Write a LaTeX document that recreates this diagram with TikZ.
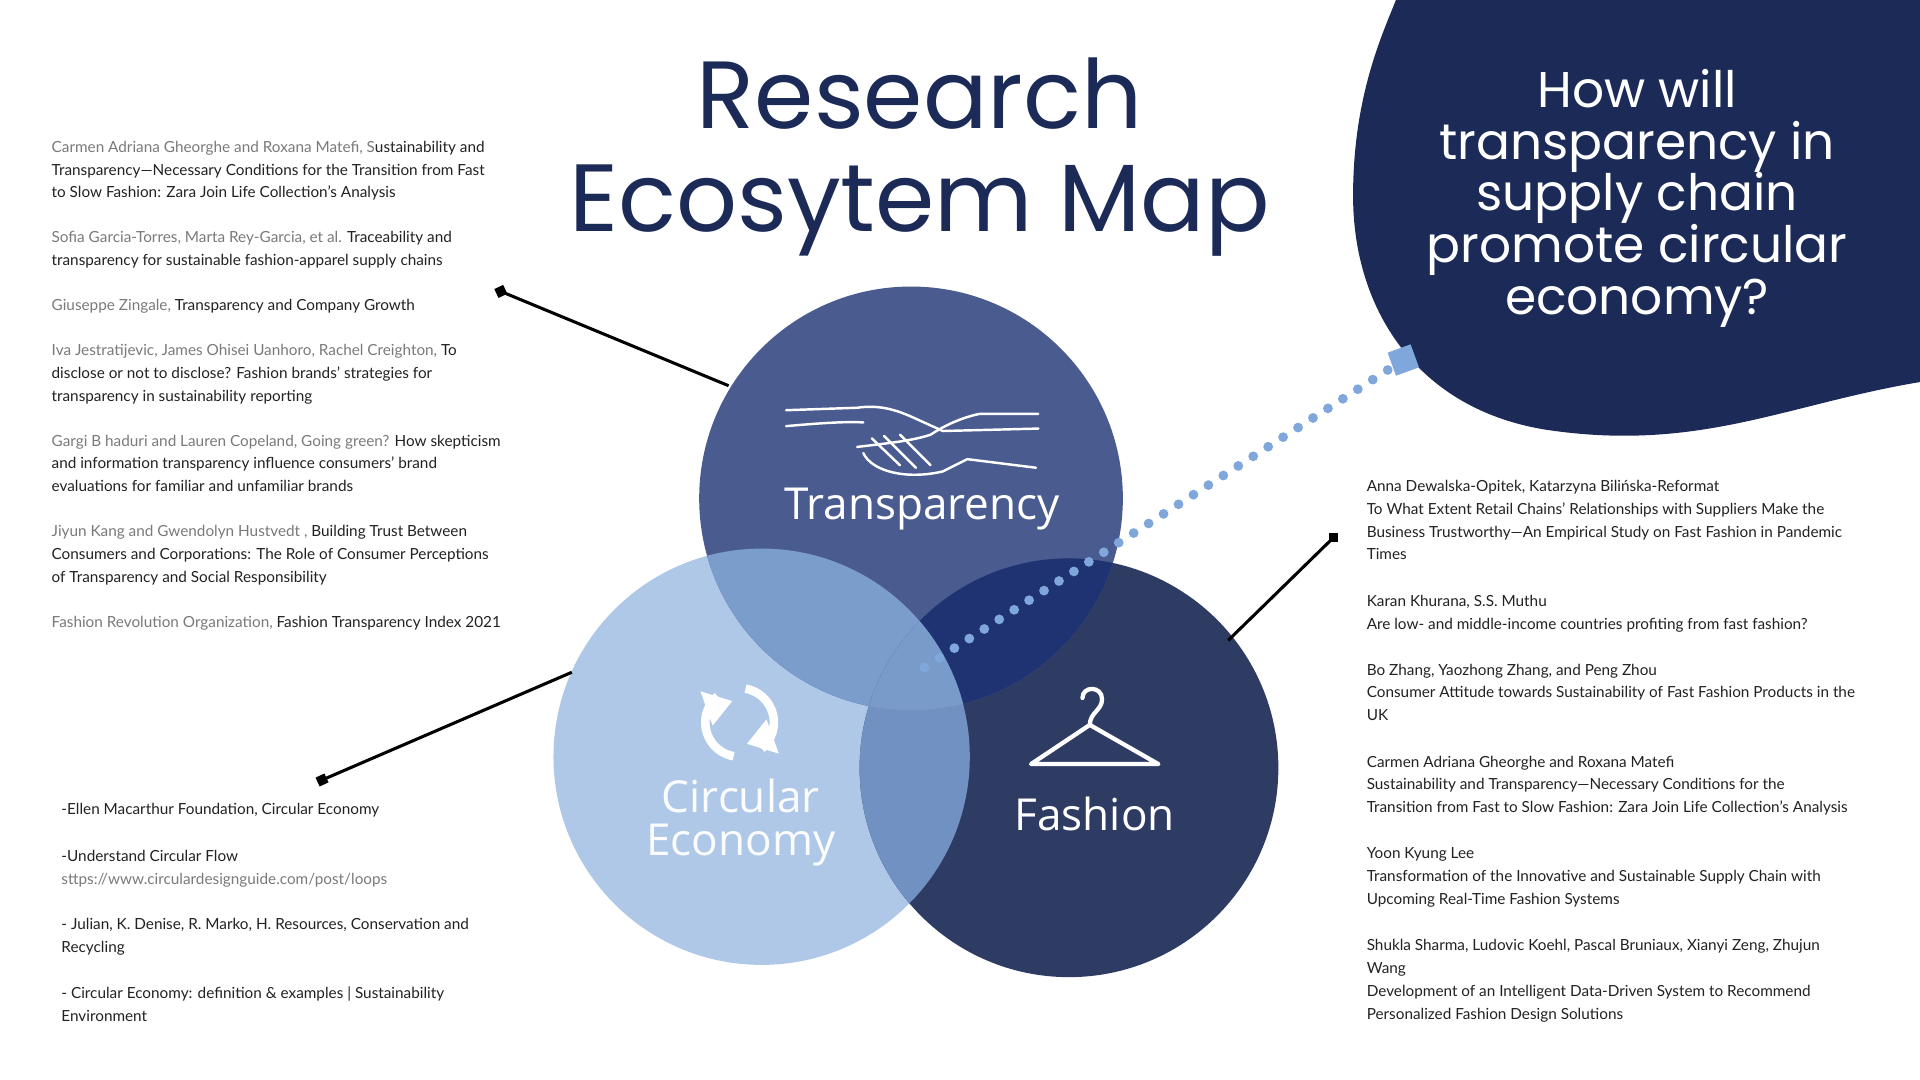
\documentclass[tikz,border=0pt]{standalone}
\usepackage{fontspec}
\setmainfont{Lato}
\newfontfamily\titlef{Poppins}
\newfontfamily\labf{Open Sans}
\usetikzlibrary{arrows.meta}
\definecolor{navy}{HTML}{1B2A57}
\definecolor{ctrans}{HTML}{4A5B8F}
\definecolor{ccirc}{HTML}{AFC8E8}
\definecolor{cfash}{HTML}{2E3C64}
\definecolor{otc}{HTML}{7B9DCB}
\definecolor{ocf}{HTML}{7191C2}
\definecolor{otf}{HTML}{1F3372}
\definecolor{dotc}{HTML}{7FA7DB}
\definecolor{auth}{HTML}{7A7A7A}
\definecolor{ttl}{HTML}{222222}
\newcommand{\au}[1]{{\color{auth}#1}}
\begin{document}
\begin{tikzpicture}[x=1pt,y=-1pt,
  ref/.style={anchor=north west,align=left,inner sep=0pt,font=\fontsize{12.5}{18.6}\selectfont,text=ttl},
  lab/.style={text=white,font=\labf\fontsize{36}{36}\selectfont,inner sep=0pt},
  conn/.style={line width=2.5pt,black},
  sq/.style={fill=black,minimum size=8pt,inner sep=0pt,rotate=25},
  ic/.style={white,line width=3.5pt,line cap=round,line join=round}]
\useasboundingbox (0,0) rectangle (1568,882);
\fill[white] (0,0) rectangle (1568,882);
% blob
\fill[navy] (1140,0) -- (1568,0) -- (1568,312) .. controls (1460,330) and (1390,368) .. (1270,352) .. controls (1160,338) and (1105,255) .. (1105,160) .. controls (1105,80) and (1128,30) .. (1140,0) -- cycle;
\node[text=white,align=center,font=\titlef\fontsize{41}{42.3}\selectfont] (q) at (1337,162) {How will\\transparency in\\supply chain\\promote circular\\economy?};
% title
\node[text=navy,align=center,font=\titlef\fontsize{78}{84}\selectfont] (title) at (751,128) {Research\\Ecosytem Map};
% circles
\coordinate (T) at (744,407); \coordinate (C) at (622,618); \coordinate (F) at (873,627);
\fill[ccirc] (C) circle (170);
\fill[cfash] (F) circle (171);
\fill[ctrans] (T) circle (173);
\begin{scope}\clip (T) circle (173); \fill[otc] (C) circle (170); \fill[otf] (F) circle (171);\end{scope}
\begin{scope}\clip (C) circle (170); \fill[ocf] (F) circle (171);\end{scope}
\begin{scope}\clip (C) circle (170); \clip (F) circle (171); \fill[otc!80!ocf] (T) circle (173);\end{scope}
% dotted line
\node[fill=dotc,minimum size=20pt,inner sep=0pt,rotate=20] (qs) at (1146,294) {};
\coordinate (d0) at (755,545);
\draw[dotc,line width=8pt,line cap=round,dash pattern=on 0pt off 14.5pt] (d0) -- (qs.center);
% icons
\draw[ic,line width=2pt] (642,335) -- (700,333) .. controls (720,330) and (735,336) .. (748,342) -- (770,352) -- (848,350);
\draw[ic,line width=2pt] (642,348) .. controls (665,346) and (690,344) .. (705,345);
\draw[ic,line width=2pt] (700,365) .. controls (725,362) and (745,360) .. (760,355) .. controls (775,345) and (790,340) .. (800,338) -- (848,338);
\draw[ic,line width=2pt] (705,370) .. controls (712,385) and (740,392) .. (770,385) -- (790,375) -- (846,382);
\draw[ic,line width=2pt] (712,358) -- (735,380) (722,356) -- (748,382) (735,355) -- (760,380);
% recycle
\draw[ic,line width=7pt,line cap=butt] (604,590) ++(100:28) arc (100:230:28);
\draw[ic,line width=7pt,line cap=butt] (604,590) ++(280:28) arc (280:410:28);
\fill[white] (604,590) ++(230:28) ++(-14,-4) -- ++(26,8) -- ++(-16,20) -- cycle;
\fill[white] (604,590) ++(50:28) ++(14,4) -- ++(-26,-8) -- ++(16,-20) -- cycle;
% hanger
\draw[ic] (884,570) .. controls (884,560) and (900,560) .. (900,571) .. controls (900,580) and (890,582) .. (890,592) -- (842,624) -- (946,624) -- (890,592);
% labels
\node[lab] (lt) at (753,416) {Transparency};
\node[lab,align=center,font=\labf\fontsize{36}{35}\selectfont,text=white!95!ccirc] (lc) at (605,672) {Circular\\Economy};
\node[lab] (lf) at (894,665) {Fashion};
% connectors
\node[sq] (s1) at (409,238) {}; \coordinate (e1) at (595,315);
\draw[conn] (s1.center) -- (e1);
\node[sq] (s2) at (263,637) {}; \coordinate (e2) at (467,549);
\draw[conn] (s2.center) -- (e2);
\node[sq,rotate=-25] (s3) at (1089,439) {}; \coordinate (e3) at (1003,523);
\draw[conn] (s3.center) -- (e3);
% left refs
\node[ref] (r1) at (42,115) {\au{Carmen Adriana Gheorghe and Roxana Matefi, S}ustainability and\\Transparency---Necessary Conditions for the Transition from Fast\\to Slow Fashion: Zara Join Life Collection’s Analysis};
\node[ref] (r2) at (42,189) {\au{Sofia Garcia-Torres, Marta Rey-Garcia, et al.} Traceability and\\transparency for sustainable fashion-apparel supply chains};
\node[ref] (r3) at (42,244) {\au{Giuseppe Zingale,} Transparency and Company Growth};
\node[ref] (r4) at (42,281) {\au{Iva Jestratijevic, James Ohisei Uanhoro, Rachel Creighton,} To\\disclose or not to disclose? Fashion brands’ strategies for\\transparency in sustainability reporting};
\node[ref] (r5) at (42,355) {\au{Gargi B haduri and Lauren Copeland, Going green?} How skepticism\\and information transparency influence consumers’ brand\\evaluations for familiar and unfamiliar brands};
\node[ref] (r6) at (42,429) {\au{Jiyun Kang and Gwendolyn Hustvedt ,} Building Trust Between\\Consumers and Corporations: The Role of Consumer Perceptions\\of Transparency and Social Responsibility};
\node[ref] (r7) at (42,503) {\au{Fashion Revolution Organization,} Fashion Transparency Index 2021};
% bottom-left refs
\node[ref] (b1) at (50,656) {-Ellen Macarthur Foundation, Circular Economy};
\node[ref] (b2) at (50,694) {-Understand Circular Flow\\\au{sttps://www.circulardesignguide.com/post/loops}};
\node[ref] (b3) at (50,750) {- Julian, K. Denise, R. Marko, H. Resources, Conservation and\\Recycling};
\node[ref] (b4) at (50,806) {- Circular Economy: definition \& examples | Sustainability\\Environment};
% right refs
\node[ref] (g1) at (1116,392) {Anna Dewalska-Opitek, Katarzyna Bilińska-Reformat\\To What Extent Retail Chains’ Relationships with Suppliers Make the\\Business Trustworthy---An Empirical Study on Fast Fashion in Pandemic\\Times};
\node[ref] (g2) at (1116,486) {Karan Khurana, S.S. Muthu\\Are low- and middle-income countries profiting from fast fashion?};
\node[ref] (g3) at (1116,542) {Bo Zhang, Yaozhong Zhang, and Peng Zhou\\Consumer Attitude towards Sustainability of Fast Fashion Products in the\\UK};
\node[ref] (g4) at (1116,617) {Carmen Adriana Gheorghe and Roxana Matefi\\Sustainability and Transparency---Necessary Conditions for the\\Transition from Fast to Slow Fashion: Zara Join Life Collection’s Analysis};
\node[ref] (g5) at (1116,692) {Yoon Kyung Lee\\Transformation of the Innovative and Sustainable Supply Chain with\\Upcoming Real-Time Fashion Systems};
\node[ref] (g6) at (1116,767) {Shukla Sharma, Ludovic Koehl, Pascal Bruniaux, Xianyi Zeng, Zhujun\\Wang\\Development of an Intelligent Data-Driven System to Recommend\\Personalized Fashion Design Solutions};
\end{tikzpicture}
\end{document}
